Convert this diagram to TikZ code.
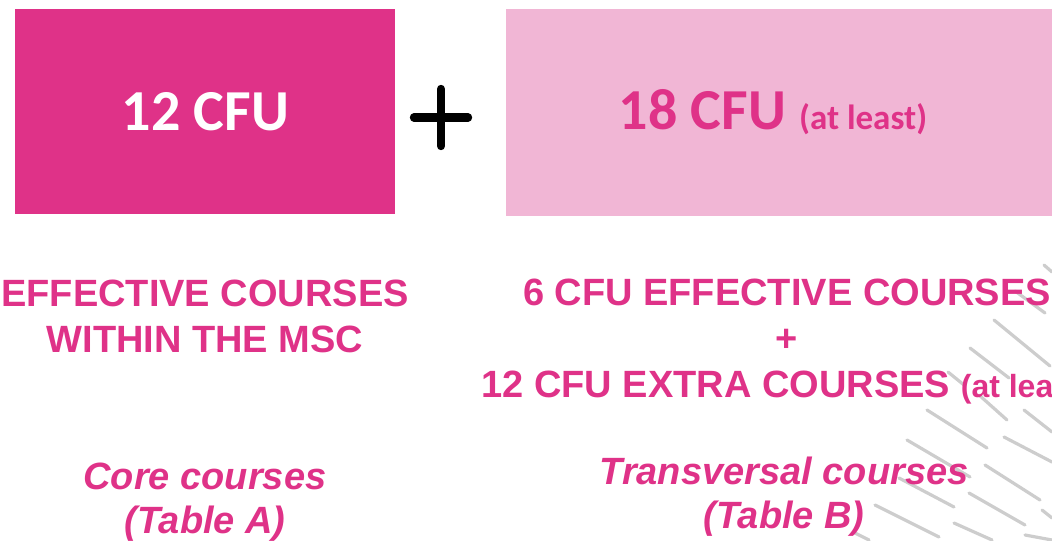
\documentclass[tikz,border=0pt]{standalone}
\usepackage{fontspec}
\newfontfamily\calibriFont{Carlito}
\newfontfamily\arialFont{Liberation Sans}
\usetikzlibrary{math}
\definecolor{cfuPink}{RGB}{223,50,136}
\definecolor{cfuLight}{RGB}{241,182,213}
\definecolor{stripeGrey}{RGB}{205,205,205}
\tikzset{
  cfuBox/.style = {rectangle, inner sep = 0pt, anchor = north west},
  headText/.style = {font = \calibriFont\bfseries\fontsize{29}{34}\selectfont},
  bodyText/.style = {text = cfuPink, align = center, anchor = base,
    font = \arialFont\bfseries\fontsize{19}{23}\selectfont},
  stripe/.style = {stripeGrey, line width = 1.6pt, line cap = round}
}

\begin{document}
\begin{tikzpicture}[x = 0.5pt, y = -0.5pt]
    \tikzmath{
      \px = 0.5;
      \leftW = (395 - 15) * \px;
      \leftH = (214 - 9) * \px;
      \rightW = (1052 - 506) * \px;
      \rightH = (216 - 9) * \px;
      \leftX = 205;
      \rightX = 787;
    }
    \useasboundingbox (0,0) rectangle (1052,540);
    % grey strokes in the lower right corner
    \draw[stripe] (1044,265) -- (1052,272) (1015,291) -- (1045,313)
      (994,320) -- (1050,366) (970,348) -- (1009,378) (948,372) -- (964,385)
      (979,395) -- (1007,420) (1024,410) -- (1052,432) (927,410) -- (987,448)
      (1004,437) -- (1052,462) (907,440) -- (970,477) (985,465) -- (1040,500)
      (899,478) -- (954,507) (969,493) -- (1025,525) (1042,510) -- (1052,518)
      (875,505) -- (939,537) (954,523) -- (992,540) (1025,535) -- (1052,540)
      (855,533) -- (869,540);
    \node[cfuBox, fill = cfuPink, minimum width = \leftW pt,
      minimum height = \leftH pt] (coreBox) at (15,9) {};
    \node[headText, text = white] (coreCfu) at (coreBox.center) {12 CFU};
    \node[cfuBox, fill = cfuLight, minimum width = \rightW pt,
      minimum height = \rightH pt] (extraBox) at (506,9) {};
    \node[headText, text = cfuPink] (extraCfu) at (773,112.5)
      {18 CFU {\fontsize{17.5}{20}\selectfont(at least)}};
    \draw[line width = 4.2pt, line cap = round] (414,117.5) -- (468,117.5)
      (441,89) -- (441,146);
    % base anchor sits on the last line
    \node[bodyText] (coreNeed) at (\leftX,352)
      {EFFECTIVE COURSES\\WITHIN THE MSC};
    \node[bodyText] (extraNeed) at (\rightX,397)
      {6 CFU EFFECTIVE COURSES\\+\\12 CFU EXTRA COURSES
       {\fontsize{16}{23}\selectfont(at least)}};
    \node[bodyText, font = \arialFont\bfseries\itshape\fontsize{19}{22}\selectfont]
      (coreTable) at (\leftX,533) {Core courses\\(Table A)};
    \node[bodyText, font = \arialFont\bfseries\itshape\fontsize{19}{22}\selectfont]
      (extraTable) at (784,528) {Transversal courses\\(Table B)};
  \end{tikzpicture}
\end{document}
